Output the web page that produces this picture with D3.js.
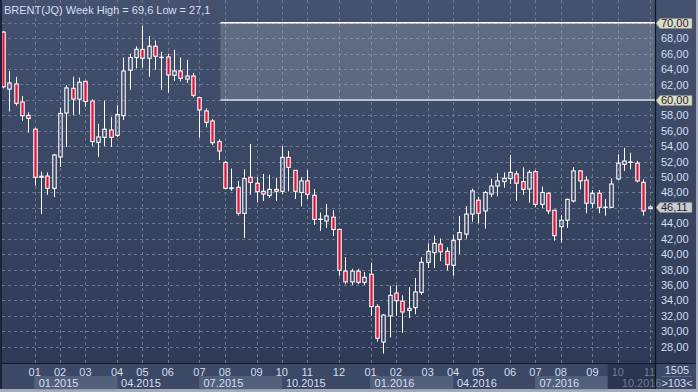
<!DOCTYPE html>
<html><head><meta charset="utf-8">
<script src="https://cdn.jsdelivr.net/npm/d3@7/dist/d3.min.js"></script>
<style>
html,body{margin:0;padding:0;overflow:hidden;background:#3b4866}
text{font-family:"Liberation Sans Narrow","Liberation Sans",Arial,sans-serif}
</style></head>
<body><svg id="chart" width="698" height="392"></svg>
<script>
// ---- data (weekly Brent candles) ----
const title = "BRENT(JQ) Week High = 69,6 Low = 27,1";
const opens  = [68.8,61.4,62.07,59.73,58.0,56.2,49.97,50.13,48.54,52.6,58.3,61.5,60.1,62.4,59.86,54.5,55.15,56.1,55.4,57.96,63.85,65.5,66.56,65.4,66.96,65.53,65.57,63.2,63.75,62.7,63.1,60.3,58.57,57.27,54.6,51.9,48.5,48.67,45.3,49.97,49.2,48.15,47.6,48.4,48.15,52.55,50.87,48.0,49.5,47.63,44.5,44.3,44.8,43.2,37.8,36.4,37.8,36.35,37.4,33.2,28.6,32.0,34.96,33.9,32.7,33.06,35.05,38.94,40.2,41.3,40.37,38.55,41.9,42.6,45.2,47.0,45.6,47.8,48.84,49.4,49.8,50.4,49.4,48.45,50.7,46.46,47.9,45.7,43.56,44.4,46.9,50.8,49.6,46.6,47.9,46.07,46.07,49.75,51.65,51.9,51.8,49.3,45.9];
const highs  = [68.9,63.75,63.0,60.5,58.4,56.4,50.7,50.6,53.0,59.0,61.9,63.0,62.9,62.5,60.1,56.9,59.9,57.8,59.3,65.5,66.0,66.96,69.6,68.3,67.7,66.25,66.0,66.5,65.5,65.2,63.5,60.4,58.9,57.5,54.9,52.1,51.1,49.5,51.0,54.3,49.97,50.4,50.3,49.9,54.0,53.4,50.9,49.97,50.9,48.45,45.4,46.5,45.7,43.3,39.6,38.1,38.1,37.7,38.9,33.5,32.2,35.9,35.96,34.66,35.7,36.9,39.6,41.4,42.4,42.05,40.9,42.5,44.95,46.25,48.5,47.45,48.2,49.8,50.5,50.6,52.86,50.8,51.26,50.9,50.9,48.75,48.0,45.7,45.1,47.2,51.3,50.9,50.1,48.3,48.3,47.15,49.84,52.95,53.8,53.15,52.1,49.7,46.3];
const lows   = [61.5,58.5,59.25,57.3,55.75,48.9,45.2,47.7,47.4,51.3,53.9,58.0,58.1,59.1,54.0,52.6,54.0,53.9,55.2,57.4,61.3,64.1,64.2,63.0,63.9,61.3,60.9,62.45,62.4,62.2,60.3,55.1,56.45,54.15,52.2,48.4,48.2,45.0,42.1,47.7,46.7,46.9,47.3,46.9,47.8,48.15,47.15,46.2,47.15,43.8,43.0,43.4,42.35,37.2,36.1,36.0,36.1,36.0,32.0,28.65,27.1,29.2,32.0,29.8,31.7,32.2,34.7,38.2,38.2,39.1,37.9,37.2,40.0,42.0,44.2,44.0,43.3,47.4,47.5,48.6,49.1,46.9,47.7,46.7,46.07,45.95,45.2,41.75,41.5,43.4,46.7,48.4,45.3,46.0,45.3,45.0,46.0,49.6,50.8,51.0,49.3,45.0,45.85];
const closes = [61.7,62.2,59.56,57.96,57.6,49.97,50.1,48.54,52.86,58.25,61.55,60.1,62.3,59.8,54.6,55.2,56.2,55.15,58.1,63.75,65.5,66.56,65.4,66.96,65.66,65.53,63.23,63.75,62.8,63.1,60.6,58.7,57.1,54.45,53.38,48.54,48.6,45.3,49.8,49.3,48.1,47.8,48.4,48.15,52.55,51.26,48.15,49.5,47.76,44.5,44.55,44.95,43.2,37.9,36.4,37.8,36.35,37.0,33.2,29.1,32.1,34.66,33.96,32.5,32.97,35.1,38.94,40.37,41.4,40.3,38.63,41.8,42.8,45.2,48.2,45.3,48.0,48.84,49.5,49.84,50.6,49.2,48.4,50.6,46.46,48.0,45.6,42.4,44.4,47.1,50.8,49.5,46.6,47.9,46.07,46.1,49.1,51.8,52.08,51.95,49.5,45.6,46.11];
const weeks = d3.range(1, opens.length + 1);
const monthWeeks  = [6,10,14,19,23,27,32,36,41,45,49,54,59,63,68,72,76,81,85,89,94,98,103];
const monthLabels = ["01","02","03","04","05","06","07","08","09","10","11","12","01","02","03","04","05","06","07","08","09","10","11"];
const quarterWeeks  = [6,19,32,45,59,72,85,98];
const quarterLabels = ["01.2015","04.2015","07.2015","10.2015","01.2016","04.2016","07.2016","10.2016"];
const yTicks = d3.range(28, 71, 2);
const zoneRange = [60, 70];
const zoneStartWeek = 35.3;
const flagPrices = [70, 60];
const lastPrice = 46.11;
const dimStartWeek = 96.4;
const barInfo = ["1505", ">103<"];

// ---- layout ----
const W = 698, H = 392;
const plotL = 2, plotR = 655, plotB = 363, stripB = 389;
const svg = d3.select("#chart");
const x = d3.scaleLinear().domain([1, 103]).range([3, 649.5]);
const y = d3.scaleLinear().domain([28, 70]).range([346.7, 22.8]);
const fmt = v => v.toFixed(2).replace(".", ",");

const defs = svg.append("defs");
const g1 = defs.append("linearGradient").attr("id","bg").attr("x1",0).attr("y1",0).attr("x2",0).attr("y2",1);
g1.append("stop").attr("offset","0%").attr("stop-color","#44526f");
g1.append("stop").attr("offset","100%").attr("stop-color","#2e3a56");
defs.append("clipPath").attr("id","plotclip").append("rect")
  .attr("x",plotL).attr("y",0).attr("width",plotR-plotL).attr("height",plotB);

// backgrounds
svg.append("rect").attr("x",0).attr("y",0).attr("width",W).attr("height",plotB).attr("fill","url(#bg)");
svg.append("rect").attr("x",0).attr("y",plotB).attr("width",W).attr("height",stripB-plotB).attr("fill","#3b4866");
svg.append("rect").attr("x",0).attr("y",stripB).attr("width",W).attr("height",H-stripB).attr("fill","#a3abba");
svg.append("rect").attr("x",W-2).attr("y",0).attr("width",2).attr("height",H).attr("fill","#a3abba");

// grid
const grid = svg.append("g").attr("clip-path","url(#plotclip)");
grid.selectAll("line.h").data(yTicks).join("line").attr("class","h")
  .attr("x1",plotL).attr("x2",plotR).attr("y1",d=>Math.round(y(d))+0.5).attr("y2",d=>Math.round(y(d))+0.5)
  .attr("stroke","#6b7893").attr("stroke-width",1).attr("stroke-dasharray","3,3");
grid.selectAll("line.v").data(monthWeeks).join("line").attr("class","v")
  .attr("x1",d=>Math.round(x(d))+0.5).attr("x2",d=>Math.round(x(d))+0.5).attr("y1",0).attr("y2",plotB)
  .attr("stroke","#6b7893").attr("stroke-width",1).attr("stroke-dasharray","3,3");

// zone 60-70
svg.append("rect").attr("x",x(zoneStartWeek)).attr("y",y(zoneRange[1]))
  .attr("width",plotR-x(zoneStartWeek)).attr("height",y(zoneRange[0])-y(zoneRange[1]))
  .attr("fill","#ffffff").attr("fill-opacity",0.16);
svg.append("line").attr("x1",x(zoneStartWeek)).attr("x2",plotR).attr("y1",y(zoneRange[1])).attr("y2",y(zoneRange[1]))
  .attr("stroke","#ffffff").attr("stroke-width",1.5);
svg.append("line").attr("x1",x(zoneStartWeek)).attr("x2",plotR).attr("y1",y(zoneRange[0])).attr("y2",y(zoneRange[0]))
  .attr("stroke","#b9bfcb").attr("stroke-width",2);

// candles
const bw = 3.4;
const cg = svg.append("g").attr("clip-path","url(#plotclip)");
const candles = weeks.map((w,i)=>({w, o:opens[i], h:highs[i], l:lows[i], c:closes[i]}));
const cs = cg.selectAll("g.c").data(candles).join("g").attr("class","c");
cs.append("line")
  .attr("x1",d=>Math.round(x(d.w))+0.5).attr("x2",d=>Math.round(x(d.w))+0.5)
  .attr("y1",d=>y(d.h)).attr("y2",d=>y(Math.max(d.o,d.c)))
  .attr("stroke","#ffffff").attr("stroke-width",1);
cs.append("line")
  .attr("x1",d=>Math.round(x(d.w))+0.5).attr("x2",d=>Math.round(x(d.w))+0.5)
  .attr("y1",d=>y(Math.min(d.o,d.c))).attr("y2",d=>y(d.l))
  .attr("stroke","#ffffff").attr("stroke-width",1);
cs.append("rect")
  .attr("x",d=>Math.round(x(d.w))+0.5-bw/2).attr("width",bw)
  .attr("y",d=>y(Math.max(d.o,d.c))).attr("height",d=>Math.max(0.3,Math.abs(y(d.o)-y(d.c))))
  .attr("fill",d=>d.c < d.o ? "#dc143c" : "none")
  .attr("stroke","#ffffff").attr("stroke-width",1.1);

// left border
svg.append("rect").attr("x",0).attr("y",0).attr("width",2).attr("height",stripB).attr("fill","#1b2338");

// title
svg.append("text").attr("x",4).attr("y",14).attr("font-size",11).attr("fill","#d6def0").text(title);

// right axis
const axis = d3.axisRight(y).tickValues(yTicks.filter(v=>Math.abs(v-lastPrice)>1.5 && !flagPrices.includes(v)))
  .tickSize(0).tickPadding(6).tickFormat(fmt);
const ag = svg.append("g").attr("transform",`translate(${plotR},0)`).call(axis);
ag.select(".domain").remove();
ag.selectAll("text").attr("font-size",11).attr("fill","#d4def2").attr("font-family",null);

// price flags
function flag(v, fill){
  const yy = Math.round(y(v)) + 0.5;
  svg.append("path").attr("d",`M${plotR+1},${yy} L${plotR+5},${yy-5} L${plotR+37},${yy-5} L${plotR+37},${yy+5} L${plotR+5},${yy+5} Z`)
    .attr("fill",fill).attr("stroke","#8a8e80").attr("stroke-width",0.6);
  svg.append("text").attr("x",plotR+6).attr("y",yy).attr("dy","0.35em").attr("font-size",11)
    .attr("fill","#1d2233").text(fmt(v));
}
flagPrices.forEach(v=>flag(v,"#dcdcc6"));
flag(lastPrice,"#c9ccd3");

// x strip: quarter boxes
quarterWeeks.forEach((qw,i)=>{
  const x0 = x(qw);
  const x1 = i < quarterWeeks.length-1 ? x(quarterWeeks[i+1]) : plotR;
  if (i % 2 === 0 && i < quarterWeeks.length-1) {
    const xe = Math.min(x1, x(dimStartWeek));
    svg.append("rect").attr("x",x0).attr("y",376.5).attr("width",xe-x0).attr("height",12.5)
      .attr("fill","#52607c").attr("stroke","#5c6985").attr("stroke-width",0.5);
  }
});
svg.append("rect").attr("x",x(dimStartWeek)).attr("y",plotB).attr("width",plotR-x(dimStartWeek)).attr("height",stripB-plotB)
  .attr("fill","#2a3550");
const dimX = x(dimStartWeek);
svg.selectAll("text.m").data(monthWeeks).join("text").attr("class","m")
  .attr("x",d=>x(d)).attr("y",375.5).attr("text-anchor","middle").attr("font-size",11)
  .attr("fill",d=>x(d) > dimX ? "#6f7a93" : "#d4def2").text((d,i)=>monthLabels[i]);
svg.selectAll("text.q").data(quarterWeeks).join("text").attr("class","q")
  .attr("x",d=>x(d)+4).attr("y",387).attr("font-size",11)
  .attr("fill",d=>x(d) > dimX ? "#6f7a93" : "#d4def2").text((d,i)=>quarterLabels[i]);

// separators
svg.append("line").attr("x1",0).attr("x2",W-2).attr("y1",plotB+0.5).attr("y2",plotB+0.5).attr("stroke","#141a2a").attr("stroke-width",1.2);
svg.append("line").attr("x1",plotR+0.5).attr("x2",plotR+0.5).attr("y1",0).attr("y2",stripB).attr("stroke","#101522").attr("stroke-width",1.2);

// bottom-right info
svg.append("text").attr("x",677).attr("y",374).attr("text-anchor","middle").attr("font-size",11).attr("fill","#d4def2").text(barInfo[0]);
svg.append("line").attr("x1",661).attr("x2",692).attr("y1",376.5).attr("y2",376.5).attr("stroke","#5c6985");
svg.append("text").attr("x",677).attr("y",387).attr("text-anchor","middle").attr("font-size",11).attr("fill","#d4def2").text(barInfo[1]);
</script></body></html>
